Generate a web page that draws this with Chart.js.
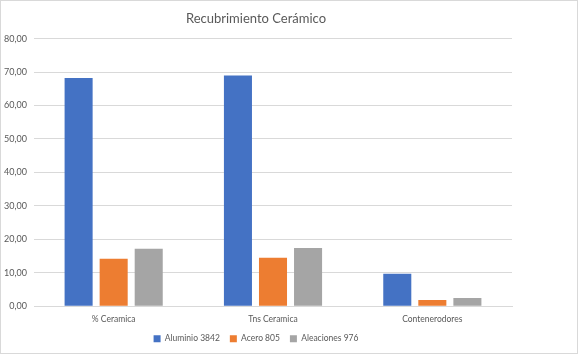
<!DOCTYPE html>
<html>
<head>
<meta charset="utf-8">
<script src="https://cdn.jsdelivr.net/npm/chart.js@4"></script>
<style>
  body { margin: 0; background: #fff; }
  #wrap { position: relative; width: 578px; height: 354px; }
  #frame { position: absolute; left: 0; top: 0; width: 576px; height: 352px; border: 1px solid #d9d9d9; pointer-events: none; }
</style>
</head>
<body>
<div id="wrap">
  <canvas id="myChart" width="578" height="354"></canvas>
  <div id="frame"></div>
</div>
<script>
'use strict';

var categories = ['% Ceramica', 'Tns Ceramica', 'Contenerodores'];
var aluminio = [68.2, 69.0, 9.7];
var acero = [14.2, 14.5, 1.9];
var aleaciones = [17.2, 17.4, 2.5];
var seriesNames = ['Aluminio 3842', 'Acero 805', 'Aleaciones 976'];

var textColor = '#595959';
var fontName = 'Lato, "Open Sans", sans-serif';

function fmt(v) {
    return Number(v).toFixed(2).replace('.', ',');
}

// a bit more room under the legend row
var legendRoom = {
    id: 'legendRoom',
    afterInit: function(chart) {
        var legend = chart.legend;
        var origFit = legend.fit;
        legend.fit = function() {
            origFit.call(this);
            this.height += 1;
        };
    }
};

var ctx = document.getElementById('myChart').getContext('2d');

var chart = new Chart(ctx, {
    type: 'bar',
    data: {
        labels: categories,
        datasets: [{
            label: seriesNames[0],
            backgroundColor: '#4472c4',
            data: aluminio
        }, {
            label: seriesNames[1],
            backgroundColor: '#ed7d31',
            data: acero
        }, {
            label: seriesNames[2],
            backgroundColor: '#a5a5a5',
            data: aleaciones
        }]
    },
    options: {
        responsive: false,
        animation: false,
        categoryPercentage: 0.66,
        barPercentage: 0.8,
        layout: {
            padding: { left: 0, right: 66, top: 8, bottom: 0 }
        },
        plugins: {
            title: {
                display: true,
                text: 'Recubrimiento Cerámico',
                color: textColor,
                font: { family: fontName, size: 13, weight: 'normal' },
                padding: { top: 3, bottom: 12 }
            },
            legend: {
                position: 'bottom',
                labels: {
                    color: textColor,
                    font: { family: fontName, size: 8.5 },
                    boxWidth: 7,
                    boxHeight: 7,
                    padding: 10
                }
            },
            tooltip: { enabled: false }
        },
        scales: {
            x: {
                grid: { display: false },
                border: { color: '#d9d9d9' },
                ticks: {
                    color: textColor,
                    font: { family: fontName, size: 8.5 },
                    padding: 0
                }
            },
            y: {
                min: 0,
                max: 80,
                ticks: {
                    stepSize: 10,
                    color: textColor,
                    font: { family: fontName, size: 9 },
                    padding: 7,
                    callback: function(value) { return fmt(value); }
                },
                grid: { color: '#d9d9d9', drawTicks: false },
                border: { display: false },
                afterFit: function(scale) { scale.width = 34; }
            }
        }
    },
    plugins: [legendRoom]
});
</script>
</body>
</html>
